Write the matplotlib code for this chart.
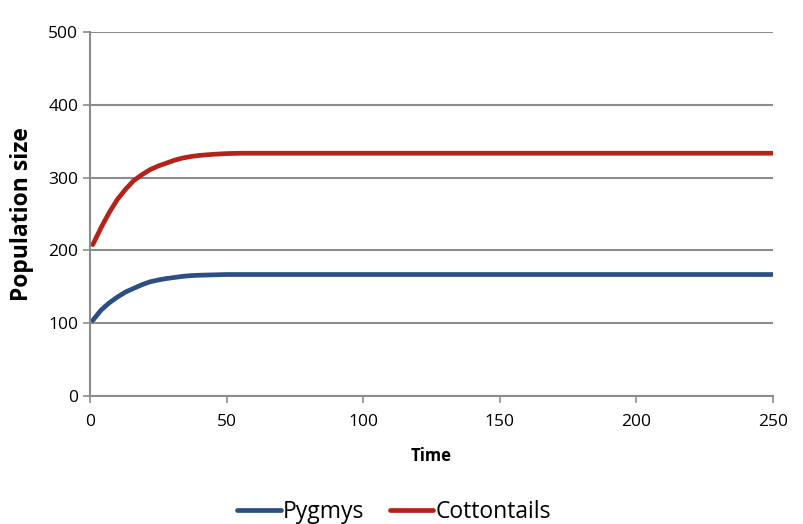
import matplotlib
matplotlib.use("Agg")
import matplotlib.pyplot as plt

# values
time = [1, 4, 7, 10, 13, 16, 19, 22, 25, 28, 31, 34, 37, 40, 45, 50, 55, 60, 100, 150, 200, 250]
pygmys = [104, 118, 128, 136, 143, 148, 153, 157, 159.5, 161.5, 163, 164.5, 165.5, 166, 166.5,
          167, 167, 167, 167, 167, 167, 167]
cottontails = [208, 231, 252, 270, 284, 296, 304, 311, 316, 320, 324, 327, 329, 330.5, 332,
               333, 333.5, 333.5, 333.5, 333.5, 333.5, 333.5]

plt.rcParams['font.family'] = ['Open Sans', 'DejaVu Sans']

fig = plt.figure(figsize=(8.04, 5.24), dpi=100)
ax = fig.add_axes([0.112, 0.244, 0.849, 0.695])

ax.plot(time, pygmys, color='#2B4F82', lw=3.4, label='Pygmys', solid_capstyle='round')
ax.plot(time, cottontails, color='#B3231A', lw=3.4, label='Cottontails', solid_capstyle='round')

ax.set_xlim(0, 250)
ax.set_ylim(0, 500)
ax.set_xticks(range(0, 251, 50))
ax.set_yticks(range(0, 501, 100))
ax.yaxis.grid(True, color='#8c8c8c', lw=1.5)
ax.set_axisbelow(True)
for s in ['top', 'right']:
    ax.spines[s].set_visible(False)
for s in ['left', 'bottom']:
    ax.spines[s].set_color('#8c8c8c')
    ax.spines[s].set_linewidth(1.5)
ax.tick_params(axis='both', colors='#8c8c8c', width=1.2, length=5, labelsize=12.5, labelcolor='black')
ax.tick_params(axis='x', pad=8)

ax.set_xlabel('Time', fontsize=12, fontweight='bold', labelpad=12)
ax.set_ylabel('Population size', fontsize=16.5, fontweight='bold', labelpad=10)

fig.legend(loc='lower center', bbox_to_anchor=(0.49, -0.04), ncol=2, frameon=False,
           fontsize=16.5, handlelength=1.9, handletextpad=0.1, columnspacing=1.1)

fig.savefig('out.png', dpi=100)
